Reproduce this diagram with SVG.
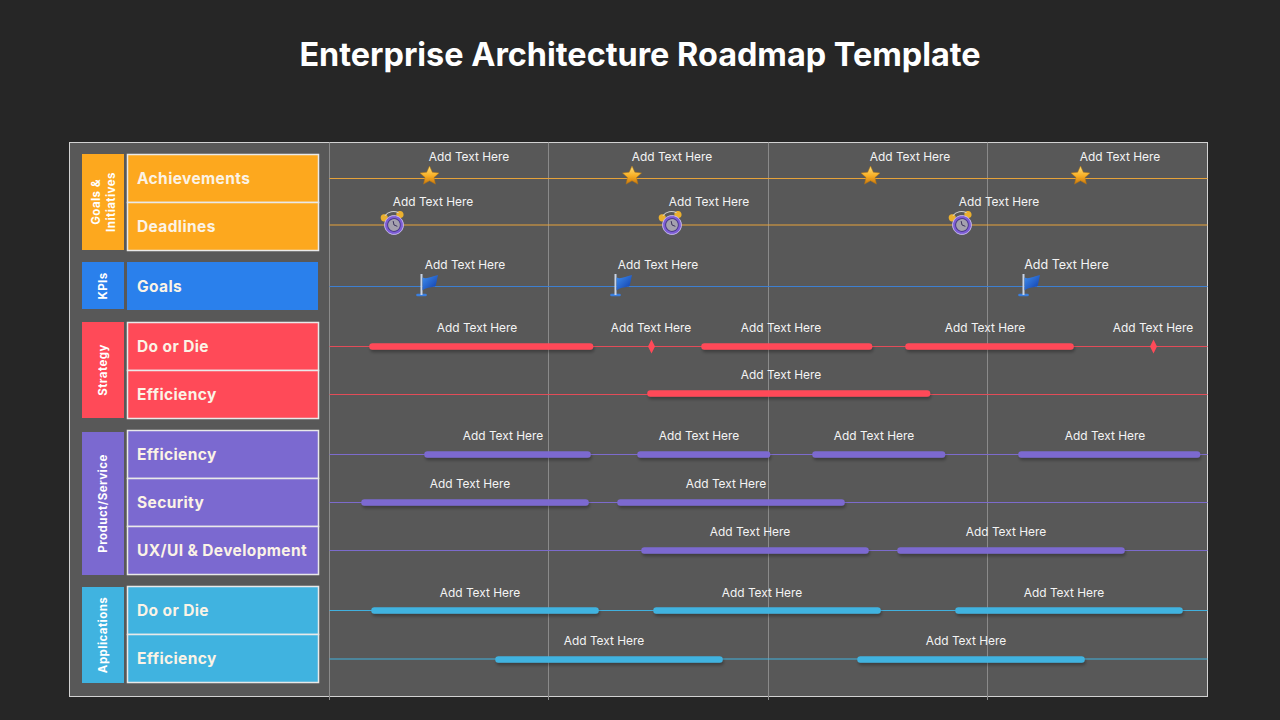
<svg xmlns="http://www.w3.org/2000/svg" width="1280" height="720" viewBox="0 0 1280 720">
<style>
text{font-family:"Inter","Liberation Sans",sans-serif;fill:#fff}
.title{font-size:32.4px;font-weight:700;text-anchor:middle}
.lbl{font-size:11.9px;text-anchor:middle;fill:#f4f4f4}
.row{font-size:15.5px;font-weight:700;fill:#fbf3e6;letter-spacing:.38px}
.side{font-size:11.5px;font-weight:700;text-anchor:middle;letter-spacing:.45px}
.cell{stroke:#e9e9e9;stroke-width:1.5}
.grid{stroke:#8a8a8a;stroke-width:1;fill:none}
.ln{stroke-width:1.2;fill:none}
.o{stroke:#e5a23a}.b{stroke:#3d7fd0}.r{stroke:#e24c58}.p{stroke:#7c6bcc}.c{stroke:#41b1de}
.bar{stroke-width:6.500;stroke-linecap:round;fill:none;filter:url(#sh)}
.br{stroke:#ff4a58}.bp{stroke:#7b69d0}.bc{stroke:#40b3e0}
.fo{fill:#fda81e}.fb{fill:#2a80ec}.fr{fill:#ff4a58}.fp{fill:#7b69d0}.fc{fill:#40b3e0}
</style>
<defs>
<filter id="sh" x="-5%" y="-300%" width="110%" height="700%" filterUnits="objectBoundingBox"><feDropShadow dx="1" dy="2.500" stdDeviation="1.800" flood-color="#000" flood-opacity=".3"/></filter>
<linearGradient id="gs" x1="0" y1="0" x2="0" y2="1"><stop offset="0" stop-color="#ffe27a"/><stop offset=".55" stop-color="#f8ae24"/><stop offset="1" stop-color="#c9760c"/></linearGradient>
<linearGradient id="gf" x1="0" y1="0" x2="1" y2="1"><stop offset="0" stop-color="#3f8ff0"/><stop offset="1" stop-color="#0f3aa8"/></linearGradient>
<g id="star"><path d="M0-9.500 2.800-3.300 9.500-2.500 4.500 2 5.900 8.600 0 5.300-5.900 8.600-4.500 2-9.500-2.500-2.800-3.300Z" fill="url(#gs)" stroke="#b9770f" stroke-width=".5"/></g>
<g id="clock" transform="rotate(-12)"><circle cx="-8" cy="-9" r="3.600" fill="#eab02f"/><circle cx="8" cy="-9" r="3.600" fill="#eab02f"/><path d="M-7-11A11 11 0 0 1 7-11" fill="none" stroke="#cfcfcf" stroke-width="1"/><circle cx="0" cy="0" r="9.500" fill="#7d5cd6" stroke="#cfc5f2" stroke-width=".8"/><circle cx="0" cy="0" r="6.400" fill="#a4a1ae" stroke="#4a3a8c" stroke-width="1"/><path d="M0-4V0L3 2" fill="none" stroke="#2c2350" stroke-width=".8"/></g>
<g id="flag"><path d="M-7.500 10H.5" stroke="#3a7fe0" stroke-width="2.600" stroke-linecap="round"/><path d="M-3.500-11V10" stroke="#c9d4e6" stroke-width="2"/><path d="M-2.500-7.500C2-5.500 6-8.500 13-10 11.500-4 11.500 0 10 1.500 5 2.500 1 2.500-2.500 5.500Z" fill="url(#gf)"/></g>
</defs>
<rect width="1280" height="720" fill="#262626"/>
<text class="title" x="640" y="65.500">Enterprise Architecture Roadmap Template</text>
<rect id="panel" x="69.500" y="142.500" width="1138" height="554" fill="#585858" stroke="#d2d2d2" stroke-width="1"/>
<g id="grid">
<path class="grid" d="M329.500 142.500V700M548.500 142.500V700M768.500 142.500V700M987.500 142.500V700"/>
</g>
<g id="connectors">
<path class="ln o" d="M329.500 178.500H1207.500M329.500 225H1207.500"/>
<path class="ln b" d="M329.500 286.500H1207.500"/>
<path class="ln r" d="M329.500 346.500H1207.500M329.500 394.500H1207.500"/>
<path class="ln p" d="M329.500 454.500H1207.500M329.500 502.500H1207.500M329.500 550.500H1207.500"/>
<path class="ln c" d="M329.500 610.500H1207.500M329.500 659H1207.500"/>
<g class="bar br"><path d="M372.500 346.500H590"/><path d="M704.500 346.500H869"/><path d="M908.500 346.500H1070.500"/><path d="M650.500 393.500H927"/></g>
<g class="bar bp"><path d="M427.500 454.500H587.500"/><path d="M640.500 454.500H767"/><path d="M815.500 454.500H942"/><path d="M1021.500 454.500H1197"/><path d="M364.500 502.500H585.500"/><path d="M620.500 502.500H841.500"/><path d="M644.500 550.500H865.500"/><path d="M900.500 550.500H1121.500"/></g>
<g class="bar bc"><path d="M374.500 610.500H595.500"/><path d="M656.500 610.500H877.500"/><path d="M958.500 610.500H1179.500"/><path d="M498.500 659.500H719.500"/><path d="M860.500 659.500H1081.500"/></g>
</g>
<g id="goals-initiatives">
<rect class="fo" x="82" y="154" width="42" height="96"/>
<text class="side" transform="translate(99.500 202) rotate(-90)">Goals &amp;</text>
<text class="side" transform="translate(114.500 202) rotate(-90)">Initiatives</text>
<rect class="fo cell" x="127.500" y="154.500" width="191" height="48"/>
<rect class="fo cell" x="127.500" y="202.500" width="191" height="48"/>
<text class="row" x="137" y="184">Achievements</text>
<text class="row" x="137" y="232">Deadlines</text>
</g>
<g id="kpis">
<rect class="fb" x="82" y="262" width="42" height="47"/>
<text class="side" transform="translate(107 286) rotate(-90)">KPIs</text>
<rect class="fb" x="127" y="262" width="191" height="48"/>
<text class="row" x="137" y="292">Goals</text>
</g>
<g id="strategy">
<rect class="fr" x="82" y="322" width="42" height="96"/>
<text class="side" transform="translate(107 370) rotate(-90)">Strategy</text>
<rect class="fr cell" x="127.500" y="322.500" width="191" height="48"/>
<rect class="fr cell" x="127.500" y="370.500" width="191" height="48"/>
<text class="row" x="137" y="352">Do or Die</text>
<text class="row" x="137" y="400">Efficiency</text>
</g>
<g id="product-service">
<rect class="fp" x="82" y="432" width="42" height="143"/>
<text class="side" transform="translate(107 503.500) rotate(-90)">Product/Service</text>
<rect class="fp cell" x="127.500" y="430.500" width="191" height="48"/>
<rect class="fp cell" x="127.500" y="478.500" width="191" height="48"/>
<rect class="fp cell" x="127.500" y="526.500" width="191" height="48"/>
<text class="row" x="137" y="460">Efficiency</text>
<text class="row" x="137" y="508">Security</text>
<text class="row" x="137" y="556">UX/UI &amp; Development</text>
</g>
<g id="applications">
<rect class="fc" x="82" y="587" width="42" height="96"/>
<text class="side" transform="translate(107 635) rotate(-90)">Applications</text>
<rect class="fc cell" x="127.500" y="586.500" width="191" height="48"/>
<rect class="fc cell" x="127.500" y="634.500" width="191" height="48"/>
<text class="row" x="137" y="616">Do or Die</text>
<text class="row" x="137" y="664">Efficiency</text>
</g>
<g id="markers">
<use href="#star" x="429.500" y="175.500"/><use href="#star" x="632" y="175.500"/><use href="#star" x="870.500" y="175.500"/><use href="#star" x="1080.500" y="175.500"/>
<use href="#clock" x="394" y="225"/><use href="#clock" x="672" y="225"/><use href="#clock" x="962" y="225"/>
<use href="#flag" x="425" y="285"/><use href="#flag" x="619" y="285"/><use href="#flag" x="1027" y="285"/>
<path class="fr" d="M651.500 339.500 655 346.500 651.500 353.500 648 346.500Z"/>
<path class="fr" d="M1153.500 339.500 1157 346.500 1153.500 353.500 1150 346.500Z"/>
</g>
<g id="labels">
<text class="lbl" x="469" y="161">Add Text Here</text><text class="lbl" x="672" y="161">Add Text Here</text><text class="lbl" x="910" y="161">Add Text Here</text><text class="lbl" x="1120" y="161">Add Text Here</text>
<text class="lbl" x="433" y="206">Add Text Here</text><text class="lbl" x="709" y="206">Add Text Here</text><text class="lbl" x="999" y="206">Add Text Here</text>
<text class="lbl" x="465" y="269">Add Text Here</text><text class="lbl" x="658" y="269">Add Text Here</text><text class="lbl" x="1066.500" y="269" style="font-size:12.5px">Add Text Here</text>
<text class="lbl" x="477" y="332">Add Text Here</text><text class="lbl" x="651" y="332">Add Text Here</text><text class="lbl" x="781" y="332">Add Text Here</text><text class="lbl" x="985" y="332">Add Text Here</text><text class="lbl" x="1153" y="332">Add Text Here</text>
<text class="lbl" x="781" y="379">Add Text Here</text>
<text class="lbl" x="503" y="440">Add Text Here</text><text class="lbl" x="699" y="440">Add Text Here</text><text class="lbl" x="874" y="440">Add Text Here</text><text class="lbl" x="1105" y="440">Add Text Here</text>
<text class="lbl" x="470" y="488">Add Text Here</text><text class="lbl" x="726" y="488">Add Text Here</text>
<text class="lbl" x="750" y="536">Add Text Here</text><text class="lbl" x="1006" y="536">Add Text Here</text>
<text class="lbl" x="480" y="597">Add Text Here</text><text class="lbl" x="762" y="597">Add Text Here</text><text class="lbl" x="1064" y="597">Add Text Here</text>
<text class="lbl" x="604" y="645">Add Text Here</text><text class="lbl" x="966" y="645">Add Text Here</text>
</g>
</svg>
